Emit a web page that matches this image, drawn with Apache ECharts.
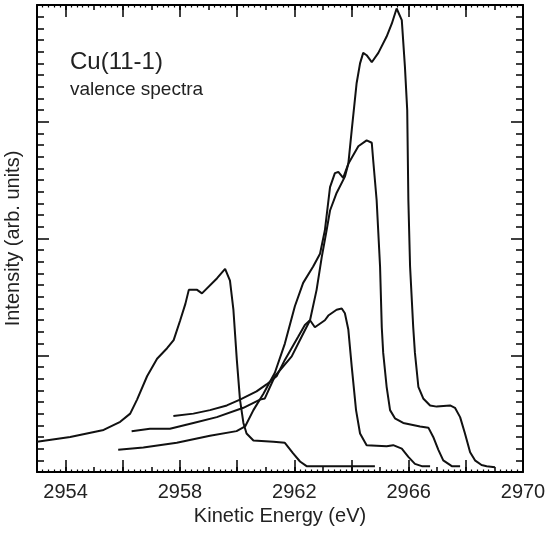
<!DOCTYPE html>
<html>
<head>
<meta charset="utf-8">
<script src="https://cdn.jsdelivr.net/npm/echarts@6/dist/echarts.min.js"></script>
<style>
html, body { margin: 0; padding: 0; background: #fff; }
#chart { width: 548px; height: 534px; }
</style>
</head>
<body>
<div id="chart"></div>
<script>
var energyMin = 2953, energyMax = 2970;
var intensityMin = 0, intensityMax = 4;
var xLabelValues = [2954, 2958, 2962, 2966, 2970];
var xMajorTicks = [2954, 2956, 2958, 2960, 2962, 2964, 2966, 2968, 2970];
var titleText = 'Cu(11-1)';
var subtitleText = 'valence spectra';

// [kinetic energy (eV), intensity (arb. units)]
var spectrumA = [
    [2953.00, 0.26], [2954.16, 0.30], [2955.33, 0.36], [2955.91, 0.43], [2956.26, 0.50],
    [2956.50, 0.62], [2956.85, 0.82], [2957.20, 0.97], [2957.55, 1.06], [2957.78, 1.13],
    [2958.01, 1.30], [2958.19, 1.44], [2958.31, 1.56], [2958.60, 1.56], [2958.77, 1.53],
    [2959.30, 1.66], [2959.58, 1.74], [2959.75, 1.64], [2959.87, 1.39], [2959.99, 0.96],
    [2960.10, 0.62], [2960.22, 0.42], [2960.33, 0.33], [2960.57, 0.27], [2961.27, 0.26],
    [2961.67, 0.25], [2961.96, 0.16], [2962.20, 0.09], [2962.43, 0.05], [2964.82, 0.05]
];
var spectrumB = [
    [2957.77, 0.48], [2958.47, 0.50], [2959.05, 0.53], [2959.64, 0.57], [2960.10, 0.62],
    [2960.68, 0.69], [2961.03, 0.75], [2961.38, 0.82], [2961.67, 0.96], [2962.14, 1.16],
    [2962.37, 1.26], [2962.55, 1.30], [2962.72, 1.24], [2963.07, 1.30], [2963.19, 1.34],
    [2963.48, 1.39], [2963.66, 1.40], [2963.77, 1.36], [2963.89, 1.22], [2964.01, 0.90],
    [2964.16, 0.53], [2964.30, 0.33], [2964.53, 0.23], [2965.23, 0.22], [2965.46, 0.23],
    [2965.76, 0.20], [2965.99, 0.13], [2966.22, 0.07], [2966.46, 0.05], [2966.75, 0.05]
];
var spectrumC = [
    [2955.84, 0.19], [2956.72, 0.21], [2957.89, 0.25], [2959.05, 0.31], [2959.98, 0.35],
    [2960.28, 0.39], [2960.57, 0.53], [2960.92, 0.67], [2961.32, 0.85], [2961.67, 1.10],
    [2962.02, 1.42], [2962.31, 1.62], [2962.66, 1.76], [2962.90, 1.87], [2963.07, 2.07],
    [2963.25, 2.44], [2963.42, 2.56], [2963.54, 2.57], [2963.71, 2.52], [2963.89, 2.64],
    [2964.24, 2.79], [2964.53, 2.84], [2964.71, 2.82], [2964.76, 2.67], [2964.88, 2.33],
    [2965.00, 1.76], [2965.06, 1.24], [2965.11, 1.02], [2965.23, 0.73], [2965.35, 0.53],
    [2965.52, 0.46], [2965.81, 0.42], [2966.40, 0.39], [2966.69, 0.38], [2966.86, 0.30],
    [2967.04, 0.19], [2967.21, 0.10], [2967.51, 0.05], [2967.80, 0.05]
];
var spectrumD = [
    [2956.31, 0.35], [2956.95, 0.37], [2957.65, 0.37], [2958.47, 0.42], [2959.29, 0.47],
    [2960.22, 0.55], [2960.80, 0.62], [2960.97, 0.63], [2961.32, 0.82], [2961.91, 0.99],
    [2962.26, 1.16], [2962.55, 1.30], [2962.78, 1.56], [2962.96, 1.84], [2963.13, 2.07],
    [2963.25, 2.24], [2963.48, 2.39], [2963.77, 2.53], [2963.89, 2.64], [2964.01, 2.93],
    [2964.12, 3.19], [2964.18, 3.33], [2964.30, 3.50], [2964.41, 3.59], [2964.53, 3.57],
    [2964.71, 3.51], [2964.94, 3.59], [2965.23, 3.73], [2965.41, 3.84], [2965.58, 3.97],
    [2965.76, 3.87], [2965.87, 3.47], [2965.95, 3.10], [2965.99, 2.33], [2966.05, 1.76],
    [2966.16, 1.24], [2966.22, 1.02], [2966.34, 0.73], [2966.51, 0.63], [2966.75, 0.57],
    [2966.98, 0.56], [2967.45, 0.57], [2967.62, 0.55], [2967.80, 0.47], [2967.97, 0.33],
    [2968.15, 0.17], [2968.32, 0.10], [2968.55, 0.06], [2968.73, 0.05], [2969.02, 0.04]
];

var fontName = 'Liberation Sans';
var ink = '#111';
var frame = { color: '#000', width: 2 };
var plotRect = { left: 37, right: 25, top: 5, bottom: 62 };

function gridAt(i) {
    return {
        id: 'g' + i,
        left: plotRect.left,
        right: plotRect.right,
        top: plotRect.top,
        bottom: plotRect.bottom,
        containLabel: false,
        outerBoundsMode: 'none'
    };
}

function labelOnly(values) {
    return function (v) {
        return values.indexOf(v) >= 0 ? String(v) : '';
    };
}

// integer ticks + small minor ticks, optionally the labelled bottom axis
function energyAxis(grid, pos, withLabels) {
    var axis = {
        gridIndex: grid,
        type: 'value',
        position: pos,
        min: energyMin,
        max: energyMax,
        interval: 1,
        splitLine: { show: false },
        axisLine: { show: true, onZero: false, lineStyle: frame },
        axisTick: { show: true, inside: true, length: 5, lineStyle: { color: '#000', width: 1.5 } },
        minorTick: { show: true, splitNumber: 5, length: 2.5, lineStyle: { color: '#000', width: 1.2 } },
        axisLabel: { show: true, formatter: labelOnly([]), margin: 10, fontSize: 20, fontFamily: fontName, color: '#222' }
    };
    if (withLabels) {
        axis.axisLabel.formatter = labelOnly(xLabelValues);
        axis.name = 'Kinetic Energy (eV)';
        axis.nameLocation = 'middle';
        axis.nameGap = 30;
        axis.nameTextStyle = { fontSize: 20, fontFamily: fontName, color: '#222' };
    }
    return axis;
}

function energyMajorTicks(grid, pos) {
    return {
        gridIndex: grid,
        type: 'value',
        position: pos,
        min: energyMin,
        max: energyMax,
        interval: 1,
        splitLine: { show: false },
        axisLine: { show: false, onZero: false },
        axisTick: { show: true, inside: true, length: 12, customValues: xMajorTicks, lineStyle: { color: '#000', width: 1.5 } },
        axisLabel: { show: true, formatter: labelOnly([]) }
    };
}

function intensityAxis(grid, pos, withName) {
    var axis = {
        gridIndex: grid,
        type: 'value',
        position: pos,
        min: intensityMin,
        max: intensityMax,
        interval: 1,
        splitLine: { show: false },
        axisLine: { show: true, onZero: false, lineStyle: frame },
        axisTick: { inside: true, length: 12, lineStyle: { color: '#000', width: 1.5 } },
        minorTick: { show: true, splitNumber: 10, length: 7, lineStyle: { color: '#000', width: 1.5 } },
        axisLabel: { show: false }
    };
    if (withName) {
        axis.name = 'Intensity (arb. units)';
        axis.nameLocation = 'middle';
        axis.nameGap = 14;
        axis.nameTextStyle = { fontSize: 20, fontFamily: fontName, color: '#222' };
    }
    return axis;
}

function hiddenAxis(grid) {
    return { gridIndex: grid, type: 'value', show: false, min: intensityMin, max: intensityMax };
}

function spectrumSeries(data) {
    return {
        type: 'line',
        xAxisIndex: 0,
        yAxisIndex: 0,
        data: data,
        showSymbol: false,
        symbol: 'none',
        lineStyle: { color: ink, width: 2 },
        silent: true
    };
}

var chart = echarts.init(document.getElementById('chart'), null, { renderer: 'canvas' });
chart.setOption({
    animation: false,
    backgroundColor: '#fff',
    grid: [gridAt(0), gridAt(1), gridAt(2), gridAt(3)],
    xAxis: [
        energyAxis(0, 'bottom', true),
        energyMajorTicks(1, 'bottom'),
        energyAxis(2, 'top', false),
        energyMajorTicks(3, 'top')
    ],
    yAxis: [
        intensityAxis(0, 'left', true),
        intensityAxis(1, 'right', false),
        hiddenAxis(2),
        hiddenAxis(3)
    ],
    graphic: [
        {
            type: 'text', x: 70, y: 62,
            style: { text: titleText, fontSize: 24, fontFamily: fontName, fill: '#222', verticalAlign: 'middle' }
        },
        {
            type: 'text', x: 70, y: 90,
            style: { text: subtitleText, fontSize: 19, fontFamily: fontName, fill: '#222', verticalAlign: 'middle' }
        }
    ],
    series: [
        spectrumSeries(spectrumA),
        spectrumSeries(spectrumB),
        spectrumSeries(spectrumC),
        spectrumSeries(spectrumD)
    ]
});
</script>
</body>
</html>
